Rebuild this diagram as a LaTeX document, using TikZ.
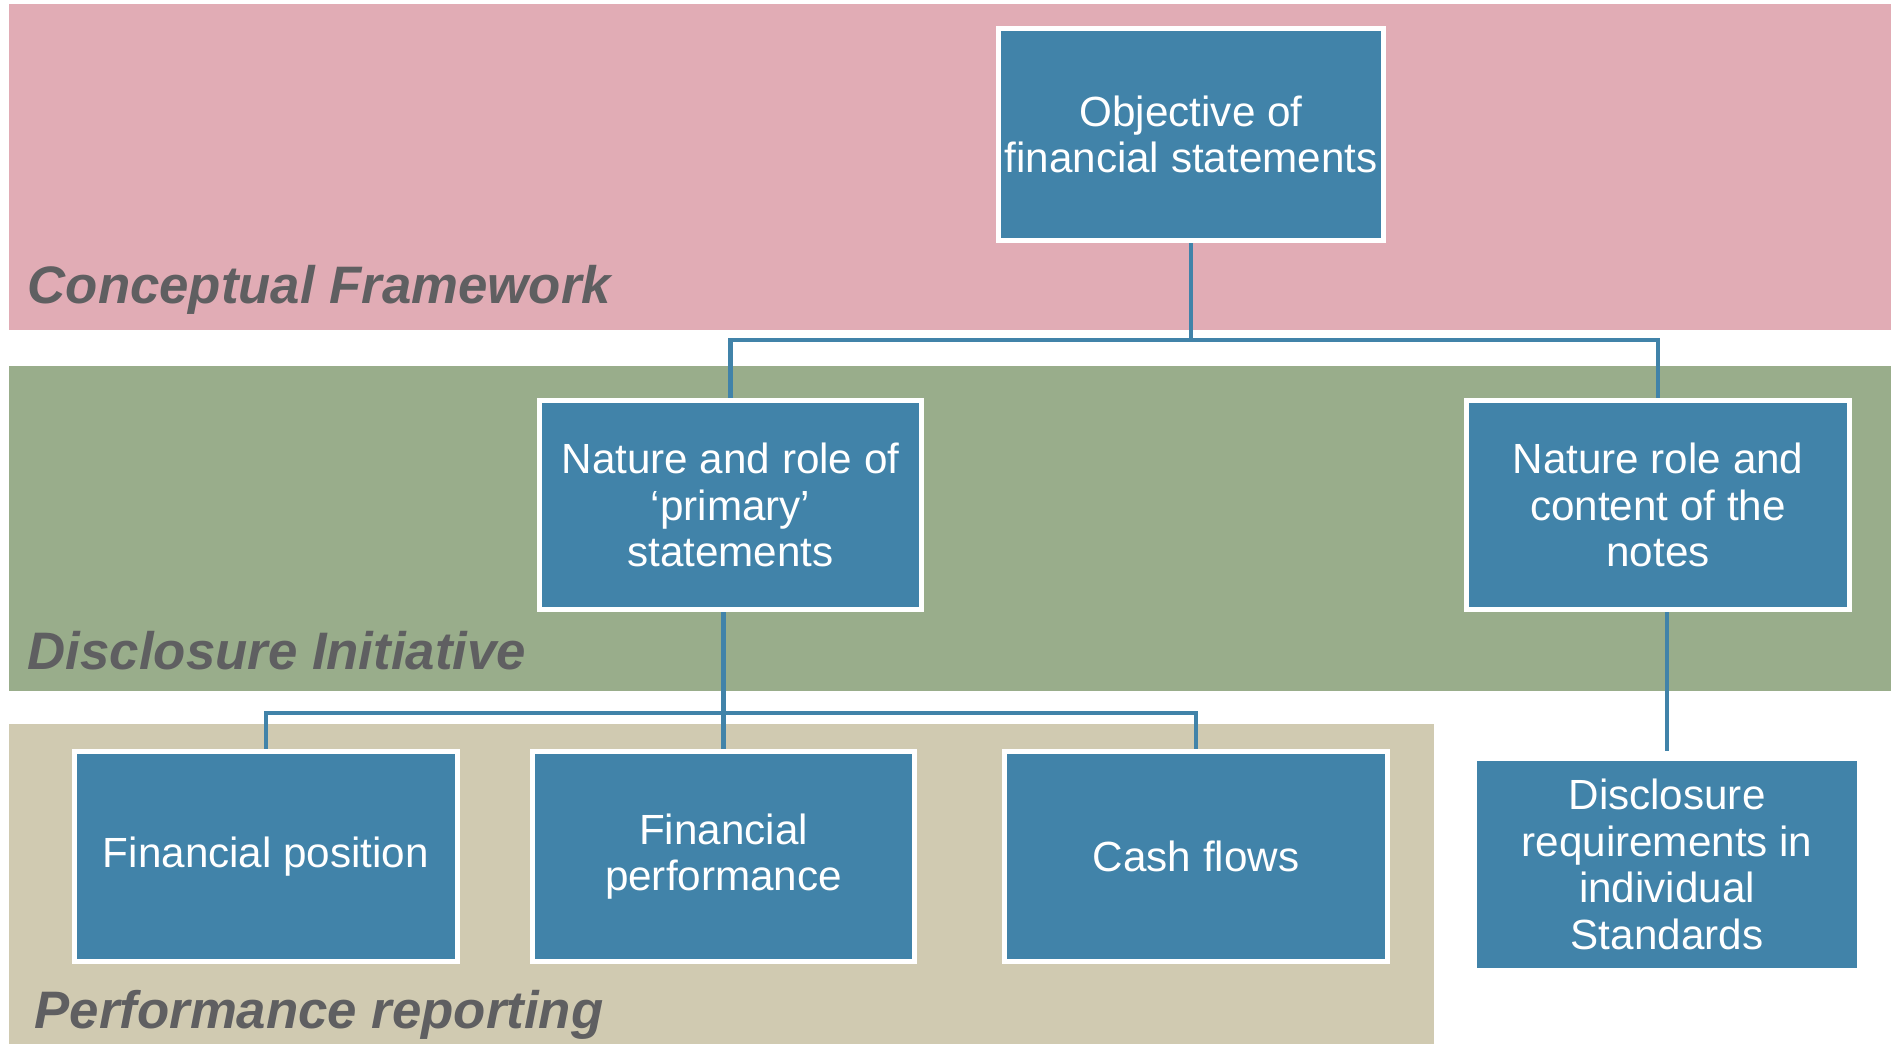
\documentclass[tikz,border=0pt]{standalone}
\usepackage{fontspec}
\setmainfont{Liberation Sans}
\definecolor{cfpink}{HTML}{E1ACB5}
\definecolor{digreen}{HTML}{99AD8B}
\definecolor{prtan}{HTML}{D0CAB1}
\definecolor{boxblue}{HTML}{4183A9}
\definecolor{labelgrey}{HTML}{5F5F61}
\tikzset{
  topic/.style={fill=boxblue, draw=white, line width=0.05cm, text=white,
    align=center, font=\fontsize{12}{13.2}\selectfont,
    minimum width=3.82cm, minimum height=2.09cm, inner sep=0pt},
  plain topic/.style={topic, draw=none, minimum width=3.79cm, minimum height=2.07cm},
  bandlabel/.style={anchor=base west, text=labelgrey, inner sep=0pt,
    font=\fontsize{15}{18}\selectfont\bfseries\itshape},
  conn/.style={draw=boxblue, line width=0.045cm}
}

\begin{document}
\begin{tikzpicture}[x=0.01cm, y=-0.01cm]
  \useasboundingbox (0,0) rectangle (1901,1044);
  \fill[cfpink]  (9,4)   rectangle (1891,330);
  \fill[digreen] (9,366) rectangle (1891,691);
  \fill[prtan]   (9,724) rectangle (1434,1044);
  \node[bandlabel] (cflabel) at (27,303)  {Conceptual Framework};
  \node[bandlabel] (dilabel) at (27,669)  {Disclosure Initiative};
  \node[bandlabel] (prlabel) at (34,1028) {Performance reporting};

  \node[topic, minimum width=3.85cm, minimum height=2.12cm] (obj) at (1191,134.5)
    {Objective of\\financial statements};
  \node[topic] (prim)  at (730.5,505) {Nature and role of\\‘primary’\\statements};
  \node[topic] (notes) at (1658,505)  {Nature role and\\content of the\\notes};
  \node[topic] (finpos)  at (266,856.5)  {Financial position};
  \node[topic] (finperf) at (723.5,856.5)  {Financial\\performance};
  \node[topic] (cash)    at (1196,856.5) {Cash flows};
  \node[plain topic] (discl) at (1667,864.5)
    {Disclosure\\requirements in\\individual\\Standards};

  \coordinate (j1) at (obj.south |- 0,340);
  \coordinate (j2) at (finperf.north |- 0,713);
  \draw[conn] (obj.south) -- (j1);
  \foreach \n in {prim,notes} { \draw[conn] (j1) -| (\n.north); }
  \draw[conn] (j2 |- prim.south) -- (j2);
  \foreach \n in {finpos,finperf,cash} { \draw[conn] (j2) -| (\n.north); }
  \draw[conn] (discl.north |- notes.south) -- ([yshift=0.07cm]discl.north);
\end{tikzpicture}
\end{document}
